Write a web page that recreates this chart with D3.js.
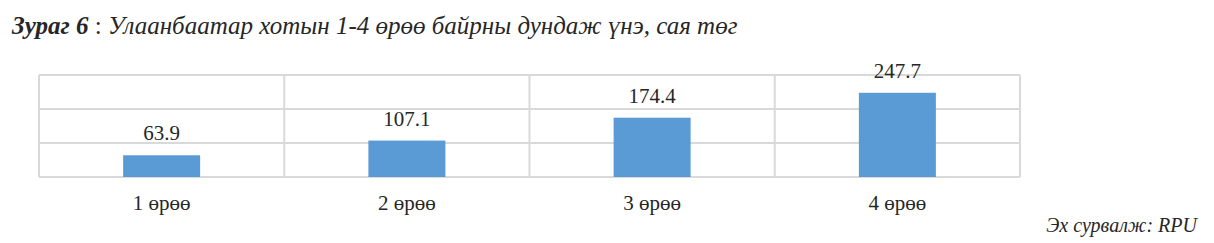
<!DOCTYPE html>
<html>
<head>
<meta charset="utf-8">
<script src="https://cdn.jsdelivr.net/npm/d3@7"></script>
<style>
  body { margin: 0; background: #fff; }
</style>
</head>
<body>
<svg width="1214" height="243"></svg>
<script>
// data
var categories = ["1 өрөө", "2 өрөө", "3 өрөө", "4 өрөө"];
var prices = [63.9, 107.1, 174.4, 247.7];
var yTicks = [0, 100, 200, 300];

var serif = "'Liberation Serif', 'Times New Roman', Tinos, 'DejaVu Serif', serif";

var svg = d3.select("svg");
var margin = { top: 75, right: 194, bottom: 66, left: 39 };
var width = 1214 - margin.left - margin.right,
    height = 243 - margin.top - margin.bottom;

// title
var title = svg.append("text")
  .attr("x", 12)
  .attr("y", 34)
  .attr("font-family", serif)
  .attr("fill", "#262626")
  .attr("font-size", 25)
  .attr("font-style", "italic");
title.append("tspan").attr("font-weight", "bold").text("Зураг 6");
title.append("tspan").attr("font-style", "normal").text(" : ");
title.append("tspan").text("Улаанбаатар хотын 1-4 өрөө байрны дундаж үнэ, сая төг");

var g = svg.append("g")
  .attr("transform", "translate(" + margin.left + "," + margin.top + ")");

var x = d3.scaleBand().domain(categories).range([0, width]).padding(0);
var y = d3.scaleLinear().domain([0, 300]).range([height, 0]);

// horizontal grid
g.selectAll("line.hgrid")
  .data(yTicks)
  .enter().append("line")
    .attr("class", "hgrid")
    .attr("x1", 0).attr("x2", width)
    .attr("y1", function(d) { return y(d); })
    .attr("y2", function(d) { return y(d); })
    .style("stroke", "#d9d9d9")
    .style("stroke-width", 2);

// vertical separators between categories
var seps = categories.map(function(d) { return x(d); }).concat([width]);
g.selectAll("line.vgrid")
  .data(seps)
  .enter().append("line")
    .attr("class", "vgrid")
    .attr("x1", function(d) { return d; })
    .attr("x2", function(d) { return d; })
    .attr("y1", y(300)).attr("y2", y(0))
    .style("stroke", "#d9d9d9")
    .style("stroke-width", 2);

var barW = x.bandwidth() * 0.314;

g.selectAll("rect.bar")
  .data(prices)
  .enter().append("rect")
    .attr("class", "bar")
    .attr("x", function(d, i) { return x(categories[i]) + x.bandwidth() / 2 - barW / 2; })
    .attr("y", function(d) { return y(d); })
    .attr("width", barW)
    .attr("height", function(d) { return y(0) - y(d); })
    .style("fill", "#5b9bd5");

g.selectAll("text.val")
  .data(prices)
  .enter().append("text")
    .attr("class", "val")
    .attr("x", function(d, i) { return x(categories[i]) + x.bandwidth() / 2; })
    .attr("y", function(d) { return y(d) - 15; })
    .attr("text-anchor", "middle")
    .attr("font-family", serif)
    .attr("fill", "#262626")
    .attr("font-size", 21)
    .text(function(d) { return d.toFixed(1); });

g.selectAll("text.cat")
  .data(categories)
  .enter().append("text")
    .attr("class", "cat")
    .attr("x", function(d) { return x(d) + x.bandwidth() / 2; })
    .attr("y", height + 33)
    .attr("text-anchor", "middle")
    .attr("font-family", serif)
    .attr("fill", "#262626")
    .attr("font-size", 21)
    .text(function(d) { return d; });

// source note
svg.append("text")
  .attr("x", 1197)
  .attr("y", 232)
  .attr("text-anchor", "end")
  .attr("font-family", serif)
  .attr("fill", "#262626")
  .attr("font-size", 20)
  .attr("font-style", "italic")
  .text("Эх сурвалж: RPU");
</script>
</body>
</html>
